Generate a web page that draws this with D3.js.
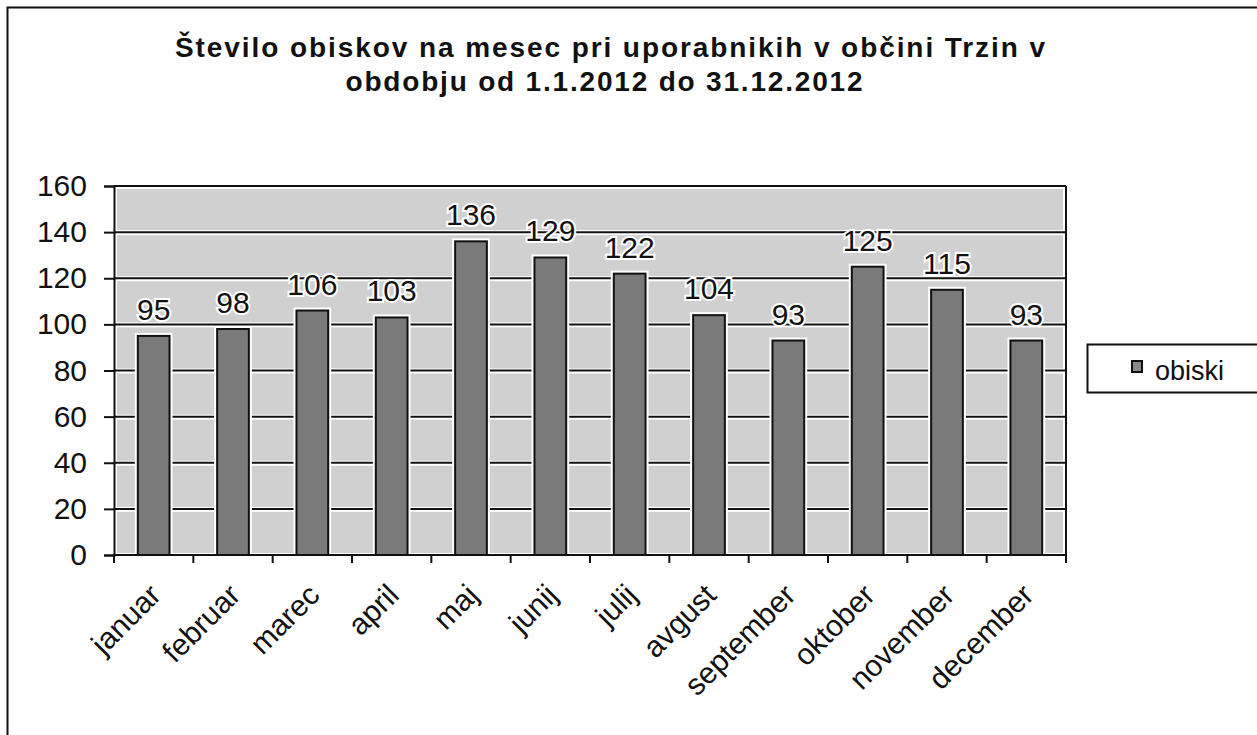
<!DOCTYPE html>
<html>
<head>
<meta charset="utf-8">
<script src="https://cdn.jsdelivr.net/npm/d3@7"></script>
<style>
  body { margin: 0; background: #fff; }
  text { font-family: "Liberation Sans", Arial, sans-serif; }
</style>
</head>
<body>
<div id="chart"></div>
<script>
// data
const months = ['januar', 'februar', 'marec', 'april', 'maj', 'junij', 'julij', 'avgust', 'september', 'oktober', 'november', 'december'];
const visits = [95, 98, 106, 103, 136, 129, 122, 104, 93, 125, 115, 93];
const yTicks = [0, 20, 40, 60, 80, 100, 120, 140, 160];
const titleLines = ['Število obiskov na mesec pri uporabnikih v občini Trzin v', 'obdobju od 1.1.2012 do 31.12.2012'];
const seriesName = 'obiski';

const width = 1257;
const height = 735;
const margin = { top: 186, bottom: 180, left: 114, right: 191 };

const svg = d3.select('#chart')
    .append('svg')
    .attr('width', width)
    .attr('height', height);

// outer frame (only top & left edges are visible in the scan)
svg.append('rect')
    .attr('x', 7.5).attr('y', 7.5)
    .attr('width', width + 20).attr('height', height + 20)
    .attr('fill', 'none')
    .attr('stroke', '#111')
    .attr('stroke-width', 2);

// title, stretched like the scan
const titleSpecs = [
    { x: 610, y: 57, len: 870 },
    { x: 604, y: 91, len: 517 }
];
svg.selectAll('.title')
    .data(titleLines)
    .enter()
    .append('text')
    .classed('title', true)
    .attr('x', (d, i) => titleSpecs[i].x)
    .attr('y', (d, i) => titleSpecs[i].y)
    .attr('text-anchor', 'middle')
    .attr('textLength', (d, i) => titleSpecs[i].len)
    .attr('lengthAdjust', 'spacing')
    .style('font-size', '28px')
    .style('font-weight', 'bold')
    .attr('fill', '#111')
    .text(d => d);

const chartWidth = width - margin.left - margin.right;
const chartHeight = height - margin.top - margin.bottom;

const chart = svg.append('g')
    .attr('transform', `translate(${margin.left},${margin.top})`);

const xScale = d3.scaleBand()
    .domain(months)
    .range([0, chartWidth])
    .paddingInner(0.6)
    .paddingOuter(0.3);

const yScale = d3.scaleLinear()
    .domain([0, 160])
    .range([chartHeight, 0]);

// plot area background: gray bands with white gaps
chart.append('rect')
    .attr('width', chartWidth).attr('height', chartHeight)
    .attr('fill', '#fff');

chart.selectAll('.band')
    .data(yTicks.slice(0, -1))
    .enter()
    .append('rect')
    .classed('band', true)
    .attr('x', 3)
    .attr('y', d => yScale(d + 20) + 3)
    .attr('width', chartWidth - 6)
    .attr('height', d => yScale(d) - yScale(d + 20) - 5)
    .attr('fill', '#d0d0d0');

// gridlines
chart.selectAll('.grid')
    .data(yTicks.slice(1))
    .enter()
    .append('line')
    .classed('grid', true)
    .attr('x1', 0).attr('x2', chartWidth)
    .attr('y1', d => yScale(d)).attr('y2', d => yScale(d))
    .attr('stroke', '#111')
    .attr('stroke-width', 2);

// right border of plot area
chart.append('line')
    .attr('x1', chartWidth).attr('x2', chartWidth)
    .attr('y1', 0).attr('y2', chartHeight)
    .attr('stroke', '#111')
    .attr('stroke-width', 2);

// bars with white halo
chart.selectAll('.bar-halo')
    .data(visits)
    .enter()
    .append('rect')
    .attr('x', (d, i) => xScale(months[i]) - 3)
    .attr('y', d => yScale(d) - 3)
    .attr('width', xScale.bandwidth() + 6)
    .attr('height', d => chartHeight - yScale(d) + 3)
    .attr('fill', '#fff');

chart.selectAll('.bar')
    .data(visits)
    .enter()
    .append('rect')
    .classed('bar', true)
    .attr('x', (d, i) => xScale(months[i]))
    .attr('y', d => yScale(d))
    .attr('width', xScale.bandwidth())
    .attr('height', d => chartHeight - yScale(d))
    .attr('fill', '#7a7a7a')
    .attr('stroke', '#111')
    .attr('stroke-width', 2);

// value labels
chart.selectAll('.bar-label')
    .data(visits)
    .enter()
    .append('text')
    .classed('bar-label', true)
    .attr('x', (d, i) => xScale(months[i]) + xScale.bandwidth() / 2)
    .attr('y', d => yScale(d) - 16)
    .attr('text-anchor', 'middle')
    .style('font-size', '30px')
    .attr('fill', '#111')
    .attr('stroke', '#fff')
    .attr('stroke-width', 4)
    .attr('paint-order', 'stroke')
    .text(d => d);

// y axis
const yAxis = d3.axisLeft(yScale)
    .tickValues(yTicks)
    .tickSize(10)
    .tickPadding(17);

const yG = chart.append('g')
    .classed('y axis', true)
    .call(yAxis);
yG.select('.domain').attr('stroke', '#111').attr('stroke-width', 2);
yG.selectAll('.tick line').attr('stroke', '#111').attr('stroke-width', 2);
yG.selectAll('.tick text')
    .style('font-size', '30px')
    .style('font-family', '"Liberation Sans", Arial, sans-serif')
    .attr('fill', '#111');

// x axis: ticks at category boundaries
const xG = chart.append('g')
    .classed('x axis', true)
    .attr('transform', `translate(0,${chartHeight})`);
const catWidth = chartWidth / months.length;
xG.append('line')
    .attr('x1', 0).attr('x2', chartWidth)
    .attr('stroke', '#111').attr('stroke-width', 2);
xG.selectAll('.xtick')
    .data(d3.range(months.length + 1))
    .enter()
    .append('line')
    .attr('x1', i => i * catWidth)
    .attr('x2', i => i * catWidth)
    .attr('y1', 0).attr('y2', 8)
    .attr('stroke', '#111').attr('stroke-width', 2);

xG.selectAll('.xlabel')
    .data(months)
    .enter()
    .append('text')
    .attr('transform', d => `translate(${xScale(d) + xScale.bandwidth() / 2 + 9},${42}) rotate(-45)`)
    .attr('text-anchor', 'end')
    .style('font-size', '30px')
    .attr('fill', '#111')
    .text(d => d);

// legend
const legend = svg.append('g')
    .attr('transform', 'translate(1087,344)');
legend.append('rect')
    .attr('x', 0.5).attr('y', 0.5)
    .attr('width', 200).attr('height', 48)
    .attr('fill', '#fff')
    .attr('stroke', '#111')
    .attr('stroke-width', 2);
legend.append('rect')
    .attr('x', 45).attr('y', 17)
    .attr('width', 10).attr('height', 11)
    .attr('fill', '#8a8a8a')
    .attr('stroke', '#111')
    .attr('stroke-width', 2);
legend.append('text')
    .attr('x', 68).attr('y', 36)
    .style('font-size', '27px')
    .attr('fill', '#111')
    .text(seriesName);
</script>
</body>
</html>
